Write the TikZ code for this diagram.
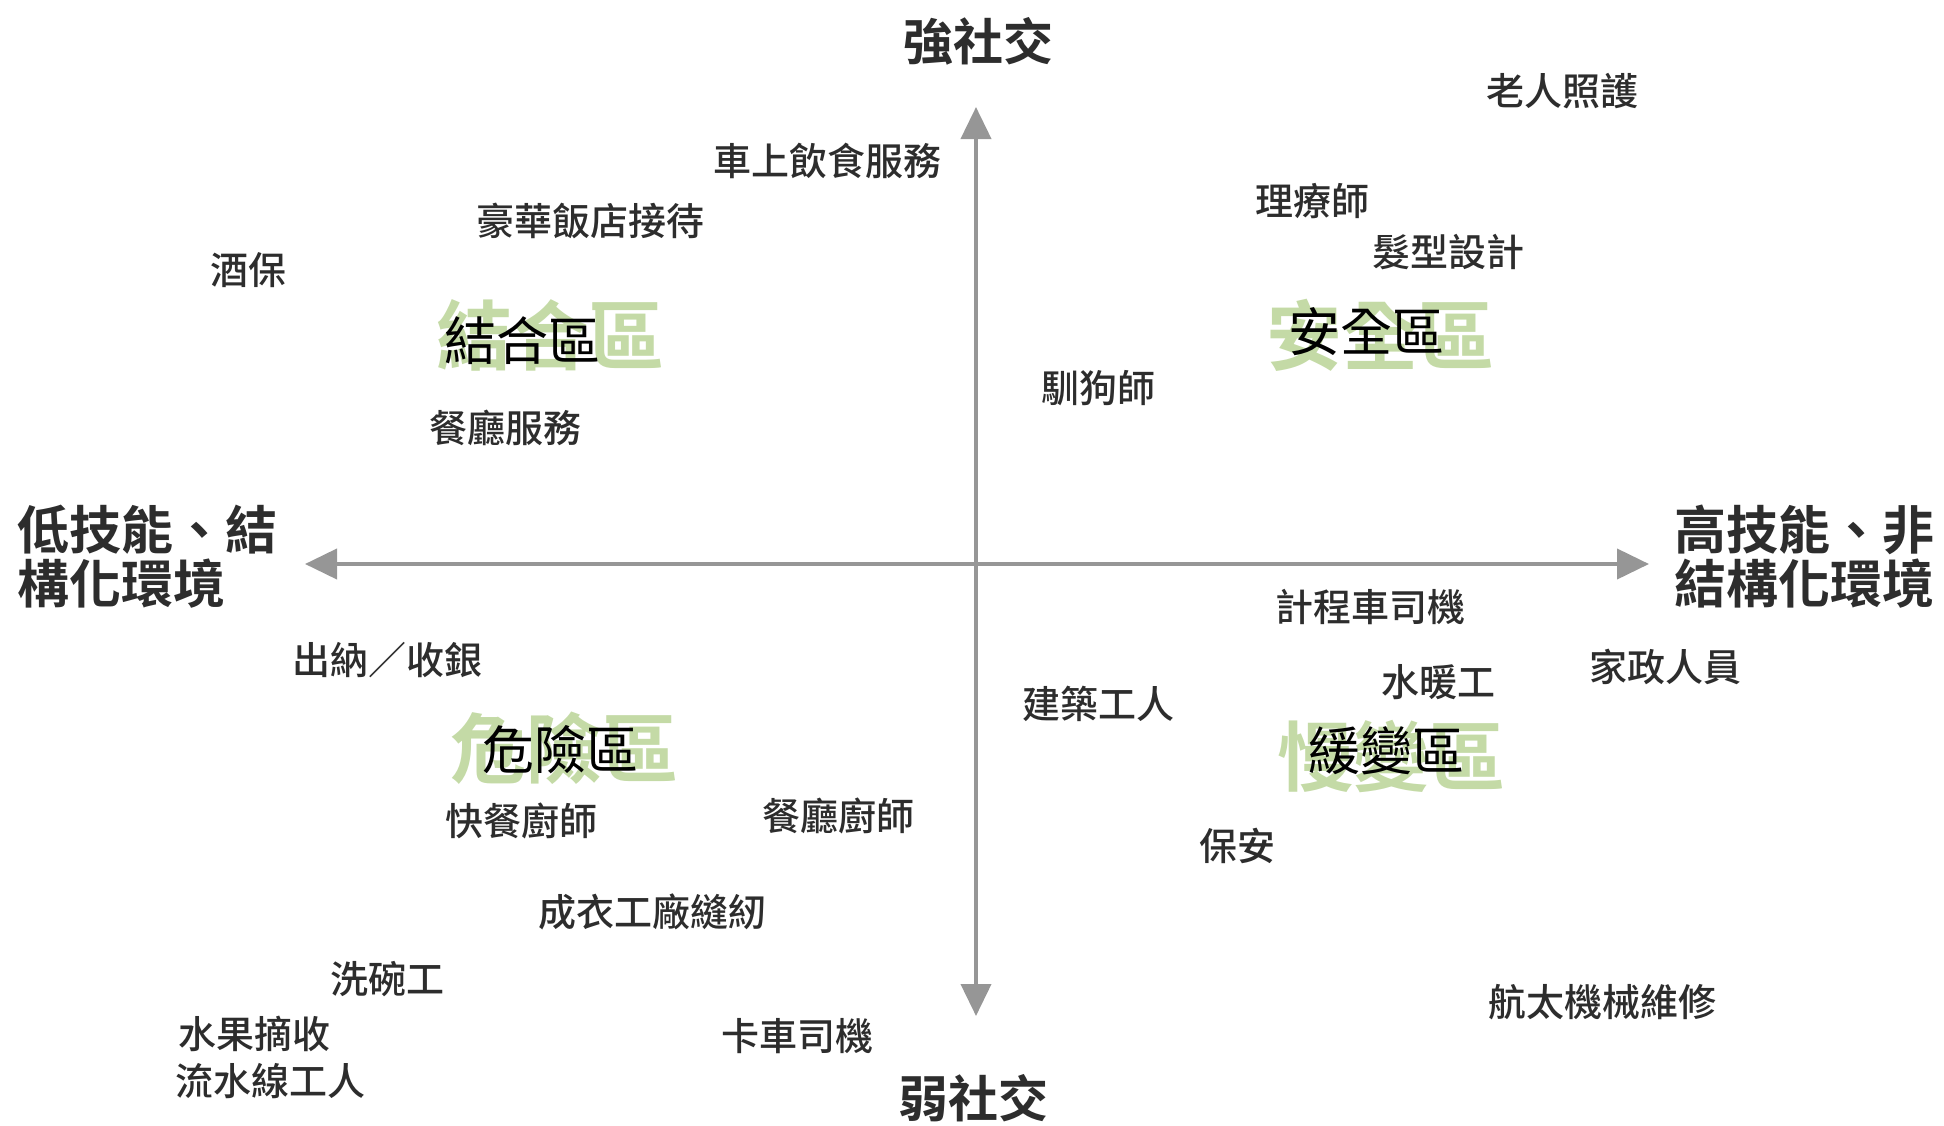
\documentclass[tikz,border=0pt]{standalone}
\usepackage{fontspec}
\setmainfont{Noto Sans CJK TC}[BoldFont={Noto Sans CJK TC Bold}]
\newfontfamily\jobfont{Noto Sans CJK TC Medium}
\usetikzlibrary{arrows.meta}
\definecolor{axisgray}{RGB}{150,150,150}
\definecolor{zonegreen}{RGB}{196,218,166}
\definecolor{textdark}{RGB}{45,45,45}
\begin{document}
\begin{tikzpicture}[x=1pt,y=-1pt]
    \tikzstyle{every node}+=[inner sep=0pt]
    \tikzstyle{job}=[text=textdark, font=\jobfont\fontsize{38}{38}\selectfont]
    \tikzstyle{axislabel}=[text=textdark, font=\bfseries\fontsize{50}{54}\selectfont]
    \tikzstyle{sidelabel}=[text=textdark, font=\bfseries\fontsize{52}{54}\selectfont, anchor=west, align=left]
    \tikzstyle{zonebig}=[text=zonegreen, font=\bfseries\fontsize{76}{76}\selectfont]
    \tikzstyle{zonename}=[text=black, font=\fontsize{52}{52}\selectfont]
    \tikzstyle{axisline}=[axisgray, line width=4pt, {Triangle[length=32pt,width=30pt]}-{Triangle[length=32pt,width=30pt]}]
    \useasboundingbox (0,0) rectangle (1944,1125);
    % axes
    \coordinate (north) at (976,107);
    \coordinate (south) at (976,1016);
    \coordinate (west) at (305,564);
    \coordinate (east) at (1649,564);
    \draw [axisline] (south) -- (north);
    \draw [axisline] (west) -- (east);
    \node [axislabel] (strong) at (978,41) {強社交};
    \node [axislabel] (weak) at (973,1098) {弱社交};
    \node [sidelabel] (lowskill) at (17,557) {低技能、結\\構化環境};
    \node [sidelabel] (highskill) at (1674,557) {高技能、非\\結構化環境};
    % zones
    \node [zonebig] (zonetl) at (550,335) {結合區};
    \node [zonename] (nametl) at (522,341) {結合區};
    \node [zonebig] (zonetr) at (1380,335) {安全區};
    \node [zonename] (nametr) at (1366,332) {安全區};
    \node [zonebig] (zonebl) at (564,748) {危險區};
    \node [zonename] (namebl) at (560,750) {危險區};
    \node [zonebig] (zonebr) at (1391,756) {慢變區};
    \node [zonename] (namebr) at (1386,751) {緩變區};
    % jobs
    \node [job] (elder) at (1562,91) {老人照護};
    \node [job] (train) at (827,161) {車上飲食服務};
    \node [job] (physio) at (1312,201) {理療師};
    \node [job] (hotel) at (590,221) {豪華飯店接待};
    \node [job] (hair) at (1448,252) {髮型設計};
    \node [job] (bartender) at (248,270) {酒保};
    \node [job] (dogtrainer) at (1098,388) {馴狗師};
    \node [job] (waiter) at (505,428) {餐廳服務};
    \node [job] (taxi) at (1370,607) {計程車司機};
    \node [job] (cashier) at (387,660) {出納／收銀};
    \node [job] (domestic) at (1665,667) {家政人員};
    \node [job] (plumber) at (1438,682) {水暖工};
    \node [job] (builder) at (1098,704) {建築工人};
    \node [job] (fastfood) at (521,821) {快餐廚師};
    \node [job] (chef) at (838,816) {餐廳廚師};
    \node [job] (guard) at (1237,846) {保安};
    \node [job] (sewing) at (652,912) {成衣工廠縫紉};
    \node [job] (dishes) at (387,979) {洗碗工};
    \node [job] (aero) at (1602,1002) {航太機械維修};
    \node [job] (fruit) at (254,1034) {水果摘收};
    \node [job] (truck) at (797,1036) {卡車司機};
    \node [job] (assembly) at (270,1081) {流水線工人};
\end{tikzpicture}
\end{document}
